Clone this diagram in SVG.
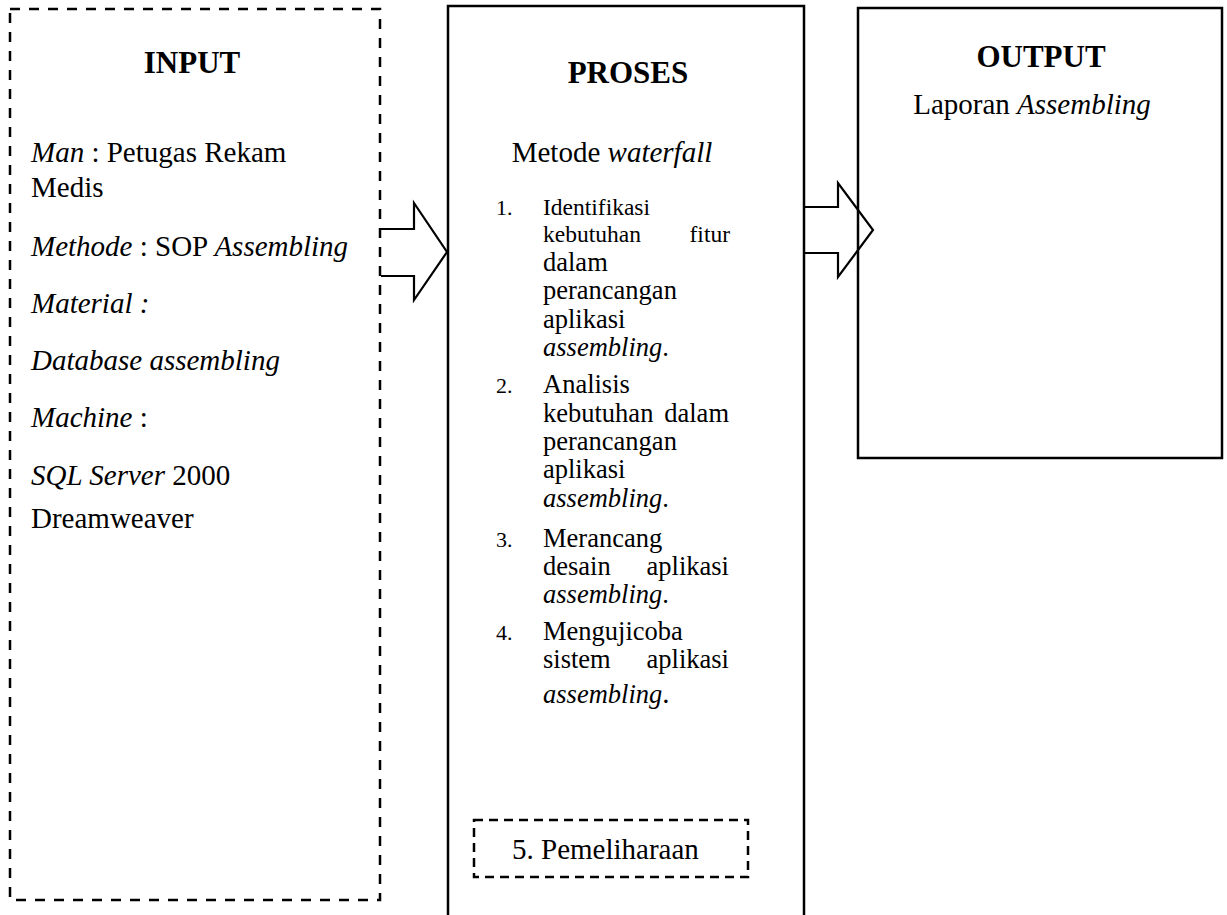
<svg xmlns="http://www.w3.org/2000/svg" width="1227" height="915" viewBox="0 0 1227 915">
<style>
text{font-family:"Liberation Serif","Times New Roman",serif;fill:#000}
.t{font-size:31px;font-weight:bold;text-anchor:middle}
.b{font-size:29px}
.l{font-size:26.5px}
.s{font-size:23.5px}
.n{font-size:22px}
.i{font-style:italic}
.dash{fill:none;stroke:#000;stroke-width:2.5;stroke-dasharray:10 9}
.dash2{fill:none;stroke:#000;stroke-width:2.5;stroke-dasharray:9 6}
.solid{fill:none;stroke:#000;stroke-width:2.5}
.arr{fill:none;stroke:#000;stroke-width:2.2;stroke-linejoin:miter}
</style>
<rect width="1227" height="915" fill="#fff"/>
<g id="connectors">
<polyline class="arr" points="381,229 414,229 414,203 447,252 414,300 414,276 381,276"/>
<polyline class="arr" points="804,207 838,207 838,183 873,230 838,277 838,253 804,253"/>
</g>
<g id="input">
<rect class="dash" x="10" y="9" width="370" height="891"/>
<text class="t" x="192" y="73">INPUT</text>
<text class="b" x="31" y="162"><tspan class="i">Man</tspan> : Petugas Rekam</text>
<text class="b" x="31" y="197">Medis</text>
<text class="b" x="31" y="256"><tspan class="i">Methode</tspan> : SOP <tspan class="i">Assembling</tspan></text>
<text class="b i" x="31" y="313">Material :</text>
<text class="b i" x="31" y="370">Database assembling</text>
<text class="b" x="31" y="427"><tspan class="i">Machine</tspan> :</text>
<text class="b" x="31" y="485"><tspan class="i">SQL Server</tspan> 2000</text>
<text class="b" x="31" y="528">Dreamweaver</text>
</g>
<g id="proses">
<rect class="solid" x="448" y="6" width="356" height="920"/>
<text class="t" x="628" y="83">PROSES</text>
<text class="b" x="612" y="162" text-anchor="middle">Metode <tspan class="i">waterfall</tspan></text>
<text class="n" x="496" y="215">1.</text>
<text class="s" x="543" y="215">Identifikasi</text>
<text class="s" x="543" y="242">kebutuhan</text>
<text class="s" x="730" y="242" text-anchor="end">fitur</text>
<text class="l" x="543" y="271">dalam</text>
<text class="l" x="543" y="299">perancangan</text>
<text class="l" x="543" y="328">aplikasi</text>
<text class="l i" x="543" y="356">assembling<tspan font-style="normal">.</tspan></text>
<text class="n" x="496" y="393">2.</text>
<text class="l" x="543" y="393">Analisis</text>
<text class="l" x="543" y="422">kebutuhan</text>
<text class="l" x="729" y="422" text-anchor="end">dalam</text>
<text class="l" x="543" y="450">perancangan</text>
<text class="l" x="543" y="478">aplikasi</text>
<text class="l i" x="543" y="507">assembling<tspan font-style="normal">.</tspan></text>
<text class="n" x="496" y="547">3.</text>
<text class="l" x="543" y="547">Merancang</text>
<text class="l" x="543" y="575">desain</text>
<text class="l" x="729" y="575" text-anchor="end">aplikasi</text>
<text class="l i" x="543" y="603">assembling<tspan font-style="normal">.</tspan></text>
<text class="n" x="496" y="640">4.</text>
<text class="l" x="543" y="640">Mengujicoba</text>
<text class="l" x="543" y="668">sistem</text>
<text class="l" x="729" y="668" text-anchor="end">aplikasi</text>
<text class="l i" x="543" y="703">assembling<tspan font-style="normal" font-size="29px">.</tspan></text>
</g>
<g id="pemeliharaan">
<rect class="dash2" x="474" y="820" width="274" height="57"/>
<text class="b" x="512" y="859">5. Pemeliharaan</text>
</g>
<g id="output">
<rect class="solid" x="858" y="8" width="364" height="450"/>
<text class="t" x="1041" y="67">OUTPUT</text>
<text class="b" x="1032" y="114" text-anchor="middle">Laporan <tspan class="i">Assembling</tspan></text>
</g>
</svg>
